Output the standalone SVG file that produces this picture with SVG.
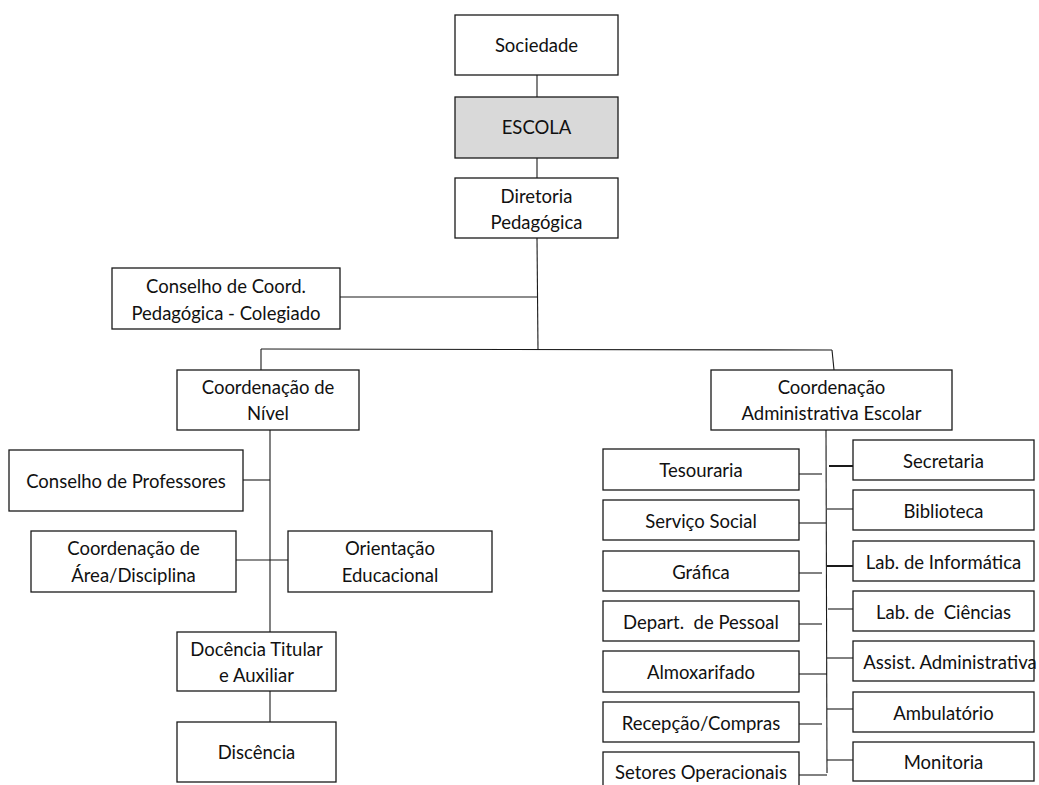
<svg xmlns="http://www.w3.org/2000/svg" width="1039" height="785" viewBox="0 0 1039 785">
<style>
.b{fill:#fff;stroke:#1a1a1a;stroke-width:1.3}
.g{fill:#d9d9d9}
text{font-family:Lato,"Open Sans","Liberation Sans",sans-serif;font-size:18.5px;fill:#111;text-anchor:middle;dominant-baseline:central}
.c line{stroke:#1a1a1a;stroke-width:1.1;fill:none}
.c line.t{stroke-width:2}
</style>
<rect width="1039" height="785" fill="#fff"/>
<g class="c" id="connectors">
<line x1="537" y1="75" x2="537" y2="97"/>
<line x1="537" y1="158" x2="537" y2="178"/>
<line x1="537" y1="238" x2="538" y2="349"/>
<line x1="340" y1="297" x2="538" y2="297"/>
<line x1="261" y1="349" x2="832" y2="350"/>
<line x1="261" y1="349" x2="261" y2="370"/>
<line x1="832" y1="350" x2="834" y2="370"/>
<line x1="270" y1="430" x2="270" y2="632"/>
<line x1="243" y1="480" x2="270" y2="480"/>
<line x1="236" y1="560" x2="288" y2="560"/>
<line x1="270" y1="691" x2="270" y2="722"/>
<line x1="826" y1="430" x2="827" y2="773"/>
<line x1="798" y1="474" x2="822" y2="474"/>
<line x1="799" y1="523" x2="826" y2="523"/>
<line x1="797" y1="573" x2="822" y2="573"/>
<line x1="797" y1="624" x2="822" y2="624"/>
<line x1="799" y1="674" x2="827" y2="674"/>
<line x1="797" y1="724" x2="822" y2="724"/>
<line x1="797" y1="775" x2="827" y2="775"/>
<line class="t" x1="829" y1="466" x2="853" y2="466"/>
<line x1="827" y1="509" x2="853" y2="509"/>
<line class="t" x1="827" y1="566" x2="853" y2="566"/>
<line x1="828" y1="609" x2="853" y2="609"/>
<line x1="827" y1="658" x2="853" y2="658"/>
<line x1="827" y1="709" x2="853" y2="709"/>
<line x1="827" y1="760" x2="853" y2="760"/>
</g>
<g id="sociedade"><rect class="b" x="455" y="15" width="163" height="60"/><text x="536.5" y="45">Sociedade</text></g>
<g id="escola"><rect class="b g" x="455" y="97" width="163" height="61"/><text x="536.5" y="127">ESCOLA</text></g>
<g id="diretoria"><rect class="b" x="455" y="178" width="163" height="60"/><text x="536.5" y="196">Diretoria</text><text x="536.5" y="222">Pedagógica</text></g>
<g id="conselho-coord"><rect class="b" x="112" y="268" width="228" height="61"/><text x="226" y="286">Conselho de Coord.</text><text x="226" y="313">Pedagógica - Colegiado</text></g>
<g id="coord-nivel"><rect class="b" x="177" y="370" width="182" height="60"/><text x="268" y="387">Coordenação de</text><text x="268" y="413">Nível</text></g>
<g id="coord-admin"><rect class="b" x="711" y="370" width="241" height="60"/><text x="831.5" y="387">Coordenação</text><text x="831.5" y="413">Administrativa Escolar</text></g>
<g id="conselho-prof"><rect class="b" x="9" y="450" width="234" height="61"/><text x="126" y="481">Conselho de Professores</text></g>
<g id="coord-area"><rect class="b" x="31" y="531" width="205" height="61"/><text x="133.5" y="548">Coordenação de</text><text x="133.5" y="575">Área/Disciplina</text></g>
<g id="orientacao"><rect class="b" x="288" y="531" width="204" height="61"/><text x="390" y="548">Orientação</text><text x="390" y="575">Educacional</text></g>
<g id="docencia"><rect class="b" x="177" y="632" width="159" height="59"/><text x="256.5" y="649">Docência Titular</text><text x="256.5" y="675">e Auxiliar</text></g>
<g id="discencia"><rect class="b" x="177" y="722" width="159" height="60"/><text x="256.5" y="752">Discência</text></g>
<g id="tesouraria"><rect class="b" x="603" y="449" width="196" height="41"/><text x="701" y="470">Tesouraria</text></g>
<g id="servico-social"><rect class="b" x="603" y="500" width="196" height="40"/><text x="701" y="521">Serviço Social</text></g>
<g id="grafica"><rect class="b" x="603" y="551" width="196" height="40"/><text x="701" y="572">Gráfica</text></g>
<g id="depart-pessoal"><rect class="b" x="603" y="601" width="196" height="40"/><text x="701" y="622" xml:space="preserve">Depart.  de Pessoal</text></g>
<g id="almoxarifado"><rect class="b" x="603" y="651" width="196" height="41"/><text x="701" y="672">Almoxarifado</text></g>
<g id="recepcao"><rect class="b" x="603" y="702" width="196" height="40"/><text x="701" y="723">Recepção/Compras</text></g>
<g id="setores"><rect class="b" x="603" y="752" width="196" height="45"/><text x="701" y="772">Setores Operacionais</text></g>
<g id="secretaria"><rect class="b" x="853" y="440" width="181" height="40"/><text x="943.5" y="461">Secretaria</text></g>
<g id="biblioteca"><rect class="b" x="853" y="490" width="181" height="40"/><text x="943.5" y="511">Biblioteca</text></g>
<g id="lab-informatica"><rect class="b" x="853" y="541" width="181" height="40"/><text x="943.5" y="562">Lab. de Informática</text></g>
<g id="lab-ciencias"><rect class="b" x="853" y="591" width="181" height="40"/><text x="943.5" y="612" xml:space="preserve">Lab. de  Ciências</text></g>
<g id="assist-admin"><rect class="b" x="853" y="641" width="181" height="40"/><text x="950" y="662">Assist. Administrativa</text></g>
<g id="ambulatorio"><rect class="b" x="853" y="692" width="181" height="40"/><text x="943.5" y="713">Ambulatório</text></g>
<g id="monitoria"><rect class="b" x="853" y="742" width="181" height="39"/><text x="943.5" y="762">Monitoria</text></g>
</svg>
